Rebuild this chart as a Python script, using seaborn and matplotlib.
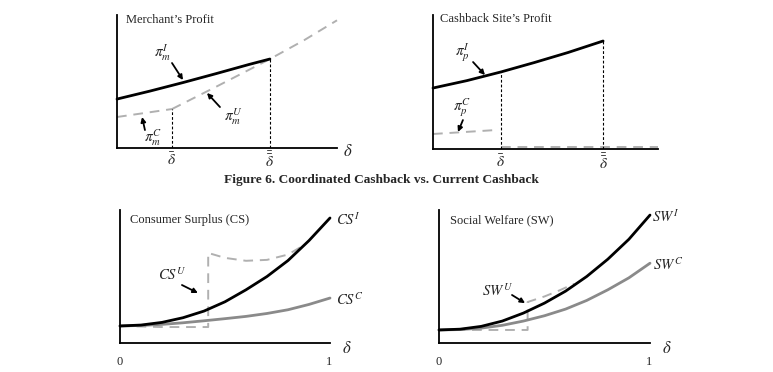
import numpy as np
import matplotlib.pyplot as plt
import seaborn as sns

sns.set_style("white")
plt.rcParams["font.family"] = ["Liberation Serif", "DejaVu Serif"]
plt.rcParams["mathtext.fontset"] = "stix"

# ---- data (conceptual curves) ----
# Merchant's profit
m_x_I = [0, 0.15, 0.3, 0.45, 0.6, 0.695]
m_y_I = [0.368, 0.428, 0.492, 0.559, 0.628, 0.669]
m_x_C = [0, 0.25]
m_y_C = [0.233, 0.293]
m_x_U = [0.25, 0.45, 0.695, 0.85, 1.0]
m_y_U = [0.293, 0.46, 0.669, 0.81, 0.96]
m_dbar, m_ddbar = 0.25, 0.695

# Cashback site's profit
p_x_I = [0, 0.15, 0.302, 0.45, 0.6, 0.756]
p_y_I = [0.455, 0.51, 0.575, 0.645, 0.72, 0.806]
p_x_C = [0, 0.284]
p_y_C = [0.112, 0.142]
p_x_U = [0.302, 1.0]
p_y_U = [0.015, 0.015]
p_dbar, p_ddbar = 0.302, 0.756

# Consumer surplus
cs_x = [0, 0.1, 0.2, 0.3, 0.4, 0.5, 0.6, 0.7, 0.8, 0.9, 1.0]
cs_I = [0.128, 0.135, 0.155, 0.19, 0.24, 0.31, 0.40, 0.50, 0.62, 0.77, 0.94]
cs_C = [0.128, 0.132, 0.14, 0.152, 0.167, 0.183, 0.2, 0.222, 0.25, 0.29, 0.338]
cs_U_x = [0, 0.2, 0.42, 0.42, 0.5, 0.6, 0.7, 0.8, 0.88]
cs_U_y = [0.128, 0.12, 0.12, 0.677, 0.64, 0.618, 0.625, 0.665, 0.74]

# Social welfare
sw_x = [0, 0.1, 0.2, 0.3, 0.4, 0.5, 0.6, 0.7, 0.8, 0.9, 1.0]
sw_I = [0.098, 0.104, 0.125, 0.165, 0.225, 0.30, 0.39, 0.50, 0.63, 0.78, 0.962]
sw_C = [0.098, 0.101, 0.112, 0.133, 0.165, 0.205, 0.255, 0.32, 0.40, 0.49, 0.60]
sw_U_x = [0, 0.42, 0.42, 0.5, 0.57, 0.64]
sw_U_y = [0.098, 0.098, 0.308, 0.35, 0.395, 0.445]

W, H = 773, 372
fig = plt.figure(figsize=(W / 100, H / 100), dpi=100)


def make_ax(left, right, top, bottom):
    ax = fig.add_axes([left / W, 1 - bottom / H, (right - left) / W, (bottom - top) / H])
    ax.set_xlim(0, 1)
    ax.set_ylim(0, 1)
    ax.set_xticks([])
    ax.set_yticks([])
    for s in ["top", "right"]:
        ax.spines[s].set_visible(False)
    for s in ["left", "bottom"]:
        ax.spines[s].set_color("black")
        ax.spines[s].set_linewidth(1.3)
    ax.patch.set_alpha(0)
    return ax


BLACK = dict(color="black", lw=2.0)
GRAY = dict(color="#8a8a8a", lw=2.0)
GDASH = dict(color="#b0b0b0", lw=1.4, linestyle=(0, (5, 3.5)))
VDASH = dict(color="black", lw=0.8, linestyle=(0, (2.5, 1.8)))


def line(ax, x, y, **kw):
    sns.lineplot(x=x, y=y, ax=ax, estimator=None, sort=False, clip_on=False, **kw)


def arrow(ax, start, end):
    ax.annotate("", xy=end, xytext=start,
                arrowprops=dict(arrowstyle="-|>", color="black", lw=1.3, mutation_scale=7,
                                shrinkA=0, shrinkB=0))


lab = dict(fontsize=9)
mlab = dict(fontsize=11, ha="center", va="center")

# ---- Merchant's profit ----
ax1 = make_ax(117, 337, 15, 148)
line(ax1, m_x_C, m_y_C, **GDASH)
line(ax1, m_x_U, m_y_U, **GDASH)
line(ax1, m_x_I, m_y_I, **BLACK)
ax1.vlines([m_dbar], 0, m_y_C[-1], **VDASH)
ax1.vlines([m_ddbar], 0, m_y_I[-1], **VDASH)
ax1.text(0.041, 0.962, "Merchant\u2019s Profit", ha="left", va="center", **lab)
ax1.text(0.209, 0.714, r"$\pi_m^I$", **mlab)
arrow(ax1, (0.25, 0.639), (0.30, 0.511))
ax1.text(0.527, 0.233, r"$\pi_m^U$", **mlab)
arrow(ax1, (0.468, 0.308), (0.409, 0.414))
ax1.text(0.164, 0.075, r"$\pi_m^C$", **mlab)
arrow(ax1, (0.127, 0.135), (0.114, 0.233))
ax1.text(m_dbar, -0.09, r"$\bar{\delta}$", **mlab)
ax1.text(m_ddbar, -0.09, r"$\bar{\bar{\delta}}$", **mlab)
ax1.text(1.05, -0.03, r"$\delta$", fontsize=12, ha="center", va="center")

# ---- Cashback site's profit ----
ax2 = make_ax(433, 658, 15, 149)
line(ax2, p_x_C, p_y_C, **GDASH)
line(ax2, p_x_U, p_y_U, **GDASH)
line(ax2, p_x_I, p_y_I, **BLACK)
ax2.vlines([p_dbar], 0, p_y_I[2], **VDASH)
ax2.vlines([p_ddbar], 0, p_y_I[-1], **VDASH)
ax2.text(0.031, 0.97, "Cashback Site\u2019s Profit", ha="left", va="center", **lab)
ax2.text(0.129, 0.716, r"$\pi_p^I$", **mlab)
arrow(ax2, (0.178, 0.649), (0.231, 0.552))
ax2.text(0.129, 0.306, r"$\pi_p^C$", **mlab)
arrow(ax2, (0.133, 0.216), (0.111, 0.127))
ax2.text(p_dbar, -0.097, r"$\bar{\delta}$", **mlab)
ax2.text(p_ddbar, -0.097, r"$\bar{\bar{\delta}}$", **mlab)

fig.text(381 / W, 1 - 180 / H, "Figure 6. Coordinated Cashback vs. Current Cashback",
         ha="center", va="center", fontsize=9.6, fontweight="bold")

# ---- Consumer surplus ----
ax3 = make_ax(120, 330, 210, 343)
line(ax3, cs_U_x, cs_U_y, **GDASH)
line(ax3, cs_x, cs_C, **GRAY)
line(ax3, cs_x, cs_I, **BLACK)
ax3.text(0.048, 0.925, "Consumer Surplus (CS)", ha="left", va="center", **lab)
ax3.text(1.03, 0.925, r"$CS^I$", ha="left", va="center", fontsize=10.5)
ax3.text(1.03, 0.323, r"$CS^C$", ha="left", va="center", fontsize=10.5)
ax3.text(0.248, 0.511, r"$CS^U$", fontsize=10.5, ha="center", va="center")
arrow(ax3, (0.295, 0.436), (0.371, 0.376))
ax3.text(1.08, -0.045, r"$\delta$", fontsize=12, ha="center", va="center")
ax3.text(0, -0.143, "0", ha="center", va="center", **lab)
ax3.text(0.995, -0.143, "1", ha="center", va="center", **lab)

# ---- Social welfare ----
ax4 = make_ax(439, 650, 210, 343)
line(ax4, sw_U_x, sw_U_y, **GDASH)
line(ax4, sw_x, sw_C, **GRAY)
line(ax4, sw_x, sw_I, **BLACK)
ax4.text(0.052, 0.925, "Social Welfare (SW)", ha="left", va="center", **lab)
ax4.text(1.01, 0.947, r"$SW^I$", ha="left", va="center", fontsize=10.5)
ax4.text(1.014, 0.586, r"$SW^C$", ha="left", va="center", fontsize=10.5)
ax4.text(0.275, 0.391, r"$SW^U$", fontsize=10.5, ha="center", va="center")
arrow(ax4, (0.346, 0.361), (0.408, 0.30))
ax4.text(1.08, -0.045, r"$\delta$", fontsize=12, ha="center", va="center")
ax4.text(0, -0.143, "0", ha="center", va="center", **lab)
ax4.text(0.995, -0.143, "1", ha="center", va="center", **lab)

fig.savefig("out.png", dpi=100, facecolor="white")
